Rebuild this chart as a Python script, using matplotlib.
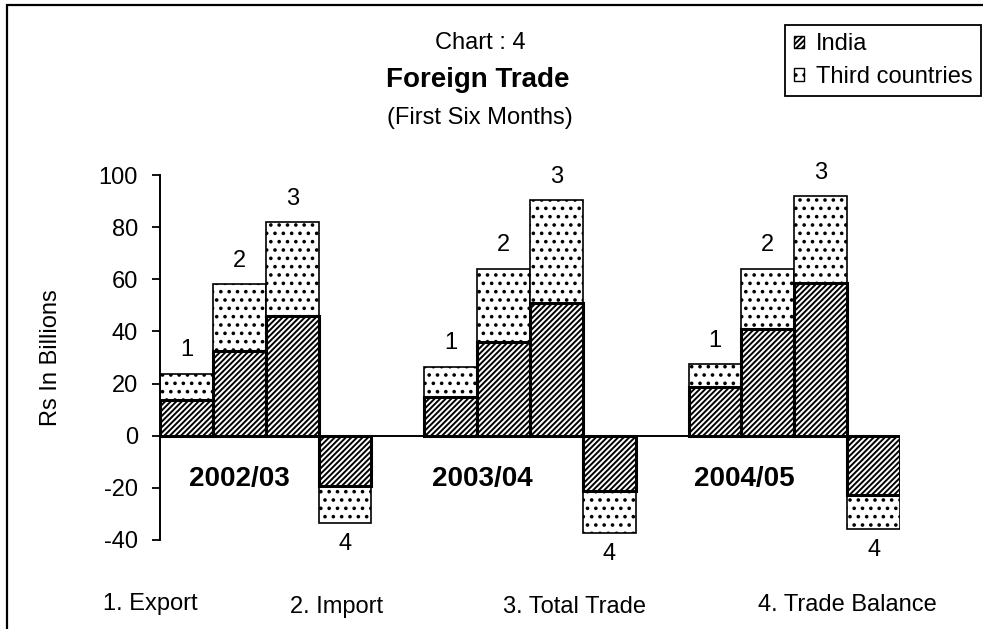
import matplotlib

matplotlib.use("Agg")
import matplotlib.pyplot as plt
import numpy as np
from matplotlib.patches import Rectangle

plt.rcParams["font.family"] = ["Liberation Sans", "DejaVu Sans"]
plt.rcParams["hatch.linewidth"] = 1.4
plt.rcParams["axes.unicode_minus"] = False

# values (Rs billions)
years = ["2002/03", "2003/04", "2004/05"]
bar_numbers = ["1", "2", "3", "4"]
measures = ["1. Export", "2. Import", "3. Total Trade", "4. Trade Balance"]

# India part of each bar: export, import, total trade, trade balance
india_0203 = [13.7, 32.6, 46.0, -19.3]
india_0304 = [14.9, 36.0, 50.9, -21.3]
india_0405 = [18.7, 41.1, 58.6, -22.6]

# third countries part stacked on top (or below for the balance)
third_0203 = [10.0, 25.5, 35.8, -14.1]
third_0304 = [11.5, 28.1, 39.4, -16.0]
third_0405 = [8.7, 23.0, 33.3, -13.3]

india = [india_0203, india_0304, india_0405]
third = [third_0203, third_0304, third_0405]

fig = plt.figure(figsize=(9.83, 6.29), dpi=100)
ax = fig.add_axes([160 / 983, 89 / 629, 740 / 983, 365 / 629])

# year label x offset from the first bar centre of each group
year_label_x = [1.01, 0.6, 0.56]

for g in range(len(years)):
    x = np.arange(4) + g * 5
    ind = np.array(india[g])
    thr = np.array(third[g])
    ax.bar(x, thr, width=1.0, bottom=ind, color="white", edgecolor="black",
           hatch="..", linewidth=1.2, zorder=2)
    ax.bar(x, ind, width=1.0, color="white", edgecolor="black",
           hatch="//////", linewidth=2.2, zorder=3)

    tops = ind + thr
    for i in range(4):
        if tops[i] >= 0:
            ax.text(x[i], tops[i] + 9, bar_numbers[i], ha="center", va="center",
                    fontsize=17, clip_on=False)
        else:
            ax.text(x[i], tops[i] - 8.0, bar_numbers[i], ha="center", va="center",
                    fontsize=17, clip_on=False)

    ax.text(g * 5 + year_label_x[g], -16.5, years[g], ha="center",
            va="center", fontsize=20, fontweight="bold")

ax.axhline(0, color="black", linewidth=1.4, zorder=4)

ax.set_xlim(-0.5, 13.5)
ax.set_ylim(-40, 100)
ax.set_yticks(np.arange(-40, 101, 20))
ax.set_xticks([])
ax.tick_params(axis="y", direction="out", length=6, width=1.3, pad=10, labelsize=17)
for side in ["top", "right", "bottom"]:
    ax.spines[side].set_visible(False)
ax.spines["left"].set_linewidth(1.4)
ax.patch.set_alpha(0)

ax.set_ylabel("Rs In Billions", fontsize=17)
ax.yaxis.set_label_coords(-0.132, 0.5)

# titles
fig.text(480 / 983, 1 - 43 / 629, "Chart : 4", ha="center", va="center", fontsize=17)
fig.text(478 / 983, 1 - 80 / 629, "Foreign Trade", ha="center", va="center",
         fontsize=20, fontweight="bold")
fig.text(480 / 983, 1 - 118 / 629, "(First Six Months)", ha="center", va="center",
         fontsize=17)

# measure key along the bottom
key_x = [103, 290, 503, 758]
key_y = [604, 607, 607, 605]
for lbl, kx, ky in zip(measures, key_x, key_y):
    fig.text(kx / 983, 1 - ky / 629, lbl, ha="left", va="center", fontsize=17)

# legend
h1 = Rectangle((0, 0), 1, 1, facecolor="white", edgecolor="black", hatch="//////",
               linewidth=1.0)
h2 = Rectangle((0, 0), 1, 1, facecolor="white", edgecolor="black", hatch="..",
               linewidth=1.0)
leg = fig.legend([h1, h2], ["India", "Third countries"], loc="upper right",
                 bbox_to_anchor=(981 / 983, 1 - 25 / 629), fontsize=17,
                 handlelength=0.45, handleheight=0.45, handletextpad=0.5,
                 labelspacing=0.45, borderpad=0.35, borderaxespad=0,
                 fancybox=False, framealpha=1)
leg.get_frame().set_edgecolor("black")
leg.get_frame().set_linewidth(1.3)

# outer frame (only top and left edges are inside the picture)
fig.add_artist(Rectangle((7 / 983, -0.1), 1.2, 1.1 - 5 / 629,
                         transform=fig.transFigure, fill=False,
                         edgecolor="black", linewidth=1.6))

fig.savefig("out.png", dpi=100)
